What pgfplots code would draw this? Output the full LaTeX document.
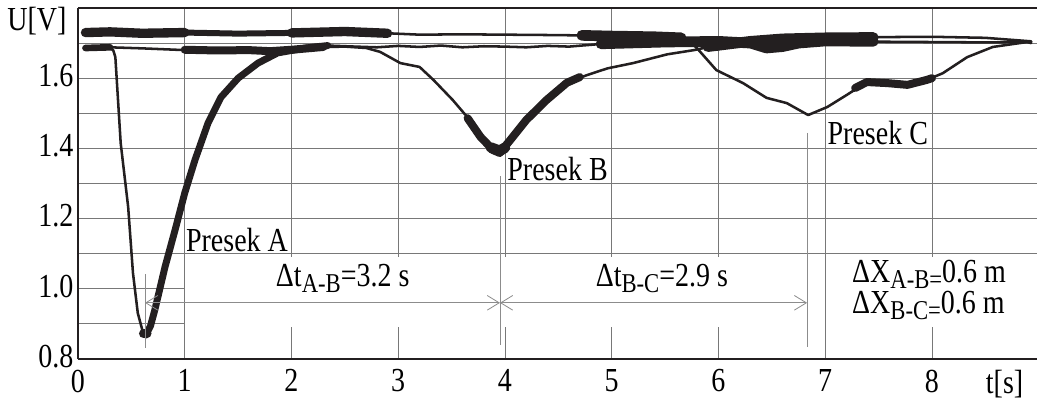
\documentclass[border=0pt]{standalone}
\usepackage{fontspec}
\setmainfont{Liberation Serif}
\usepackage{pgfplots}
\pgfplotsset{compat=1.18}
\usetikzlibrary{arrows.meta}
\newcommand\bigf{\fontsize{21}{25}\selectfont}
\newcommand\st[1]{\scalebox{1}[1.2]{#1}}
\newcommand\subf[1]{\raisebox{-3.8pt}{\fontsize{17}{20}\selectfont #1}}
\definecolor{trc}{RGB}{35,31,32}
\definecolor{grd}{RGB}{120,120,120}
\definecolor{ann}{RGB}{140,140,140}
\begin{document}
\begin{tikzpicture}
\begin{axis}[
  scale only axis, width=720.6pt, height=263.25pt,
  xmin=0, xmax=9, ymin=0.8, ymax=1.8,
  axis x line*=box, axis y line*=left, axis line style={-},
  x axis line style={line width=1.4pt, color=trc},
  y axis line style={line width=1.1pt, color=trc},
  xtick={0,...,8}, ytick={0.8,1.0,1.2,1.4,1.6},
  minor ytick={0.9,1.1,1.3,1.5,1.7},
  xticklabel={\st{\pgfmathprintnumber{\tick}}},
  yticklabel={\st{\pgfmathprintnumber[fixed,fixed zerofill,precision=1]{\tick}}},
  extra x ticks={8.68}, extra x tick labels={\st{t[s]}},
  extra x tick style={grid=none},
  grid=both, grid style={grd, line width=0.6pt},
  minor grid style={grd, line width=0.6pt},
  major tick length=0pt, minor tick length=0pt,
  tick label style={font=\bigf},
  /pgf/number format/assume math mode=true,
  xticklabel style={yshift=-4.5pt},
  yticklabel style={yshift=2pt},
  trace/.style={color=trc, line width=1.9pt, line join=round, line cap=round, no marks},
  fat/.style={trace, line width=#1},
  clip=true,
]
% annotation band
\fill[white] (axis cs:1.0,0.891) rectangle (axis cs:9,1.091);
\draw[grd, line width=0.6pt] (axis cs:1,0.891)--(axis cs:1,1.091);
\draw[grd, line width=0.6pt] (axis cs:7,0.891)--(axis cs:7,1.091);

% Trace A
\addplot[trace] coordinates {(0.07,1.688)(0.15,1.686)(0.22,1.690)(0.30,1.684)(0.33,1.680)(0.35,1.66)(0.40,1.415)(0.47,1.233)(0.515,1.045)(0.56,0.931)(0.61,0.874)(0.637,0.868)(0.68,0.895)(0.72,0.94)(0.815,1.062)(0.91,1.168)(1.0,1.273)(1.096,1.367)(1.218,1.472)(1.34,1.546)(1.5,1.60)(1.686,1.643)(1.87,1.672)(2.13,1.686)(2.34,1.693)(2.6,1.690)(2.8,1.688)(3.0,1.692)(3.2,1.689)(3.4,1.693)(3.6,1.688)(3.8,1.691)(4.0,1.690)(4.2,1.688)(4.4,1.692)(4.6,1.690)(4.8,1.695)(5.0,1.700)(5.5,1.703)(6.0,1.705)(6.3,1.700)(6.45,1.684)(6.6,1.688)(6.75,1.700)(7.0,1.706)(7.5,1.704)(8.0,1.703)(8.5,1.702)(8.93,1.703)};
\addplot[fat=5.2pt] coordinates {(0.62,0.872)(0.637,0.868)(0.68,0.895)(0.72,0.94)(0.815,1.062)(0.91,1.168)(1.0,1.273)(1.096,1.367)(1.218,1.472)(1.34,1.546)(1.5,1.60)(1.686,1.643)(1.87,1.672)(2.13,1.686)(2.34,1.693)};
\addplot[fat=7pt] coordinates {(0.615,0.872)(0.645,0.872)};
\addplot[fat=8pt] coordinates {(4.9,1.698)(5.5,1.703)(6.0,1.705)(6.3,1.700)(6.45,1.686)(6.6,1.690)(6.75,1.700)(7.0,1.706)(7.45,1.705)};

% Trace B
\addplot[trace] coordinates {(0.07,1.684)(0.3,1.688)(0.6,1.685)(1.0,1.680)(1.3,1.678)(1.6,1.680)(1.8,1.676)(2.0,1.680)(2.2,1.688)(2.5,1.690)(2.7,1.686)(2.83,1.675)(3.02,1.643)(3.2,1.632)(3.33,1.595)(3.51,1.538)(3.67,1.481)(3.77,1.433)(3.89,1.395)(3.95,1.387)(4.05,1.424)(4.2,1.481)(4.39,1.538)(4.58,1.587)(4.77,1.609)(4.96,1.628)(5.2,1.643)(5.52,1.668)(5.77,1.68)(6.0,1.695)(6.3,1.705)(6.6,1.712)(7.0,1.715)(7.5,1.717)(8.0,1.718)(8.5,1.715)(8.93,1.705)};
\addplot[fat=5pt] coordinates {(0.07,1.686)(0.3,1.688)};
\addplot[fat=6pt] coordinates {(1.0,1.681)(1.3,1.679)(1.6,1.680)(1.8,1.677)(2.0,1.681)(2.3,1.689)};
\addplot[fat=6pt] coordinates {(3.65,1.486)(3.77,1.433)(3.89,1.395)(3.95,1.387)(4.05,1.424)(4.2,1.481)(4.39,1.538)(4.58,1.587)(4.7,1.603)};
\addplot[fat=8pt] coordinates {(3.87,1.402)(3.95,1.393)(4.0,1.402)};
\addplot[fat=8pt] coordinates {(5.9,1.690)(6.3,1.705)(6.6,1.712)(7.0,1.715)(7.45,1.716)};

% Trace C
\addplot[trace] coordinates {(0.07,1.730)(0.3,1.732)(0.6,1.728)(1.0,1.730)(1.5,1.727)(2.0,1.729)(2.5,1.733)(2.9,1.728)(3.2,1.724)(3.6,1.725)(4.0,1.724)(4.4,1.723)(4.7,1.722)(5.0,1.720)(5.4,1.718)(5.7,1.712)(5.8,1.685)(5.98,1.623)(6.23,1.586)(6.45,1.544)(6.64,1.529)(6.84,1.495)(7.02,1.518)(7.2,1.552)(7.39,1.589)(7.58,1.586)(7.77,1.581)(7.95,1.595)(8.1,1.614)(8.33,1.66)(8.57,1.689)(8.89,1.703)(8.93,1.70)};
\addplot[fat=7pt] coordinates {(0.07,1.730)(0.3,1.732)(0.6,1.728)(1.0,1.730)};
\addplot[fat=4.5pt] coordinates {(1.0,1.730)(1.5,1.727)(2.0,1.729)};
\addplot[fat=7pt] coordinates {(2.0,1.729)(2.5,1.733)(2.9,1.728)};
\addplot[fat=8pt] coordinates {(4.72,1.722)(5.0,1.720)(5.4,1.718)(5.65,1.715)};
\addplot[fat=6pt] coordinates {(7.28,1.572)(7.39,1.589)(7.58,1.586)(7.77,1.581)(7.95,1.595)(8.0,1.600)};

% markers and arrows
\draw[ann, line width=0.7pt] (axis cs:0.628,1.042)--(axis cs:0.628,0.831);
\draw[ann, line width=0.7pt] (axis cs:3.953,1.321)--(axis cs:3.953,0.84);
\draw[ann, line width=0.7pt] (axis cs:6.83,1.444)--(axis cs:6.83,0.834);
\draw[ann, line width=0.6pt, {Straight Barb[length=9pt,width=11pt]}-{Straight Barb[length=9pt,width=11pt]}] (axis cs:0.628,0.96)--(axis cs:3.953,0.96);
\draw[ann, line width=0.6pt, {Straight Barb[length=9pt,width=11pt]}-{Straight Barb[length=9pt,width=11pt]}] (axis cs:3.953,0.96)--(axis cs:6.83,0.96);

% labels
\node[anchor=west, inner sep=0pt, font=\bigf] at (axis cs:1.01,1.139) {\st{Presek A}};
\node[anchor=west, inner sep=0pt, font=\bigf] at (axis cs:4.02,1.341) {\st{Presek B}};
\node[anchor=west, inner sep=0pt, font=\bigf] at (axis cs:7.02,1.444) {\st{Presek C}};
\node[anchor=center, inner sep=0pt, font=\bigf] at (axis cs:2.48,1.03) {\st{Δt\subf{A-B}=3.2 s}};
\node[anchor=center, inner sep=0pt, font=\bigf] at (axis cs:5.47,1.03) {\st{Δt\subf{B-C}=2.9 s}};
\node[anchor=west, inner sep=0pt, font=\bigf] at (axis cs:7.25,1.042) {\st{ΔX\subf{A-B=}0.6 m}};
\node[anchor=west, inner sep=0pt, font=\bigf] at (axis cs:7.25,0.953) {\st{ΔX\subf{B-C=}0.6 m}};
\end{axis}
\node[anchor=east, font=\bigf, inner sep=0pt] at ([xshift=-8.5pt,yshift=-9.5pt]current axis.north west) {\st{U[V]}};
\pgfresetboundingbox
\path ([shift={(-58.5pt,-33pt)}]current axis.south west) rectangle ([shift={(-1.3pt,6pt)}]current axis.north east);
\end{tikzpicture}
\end{document}
